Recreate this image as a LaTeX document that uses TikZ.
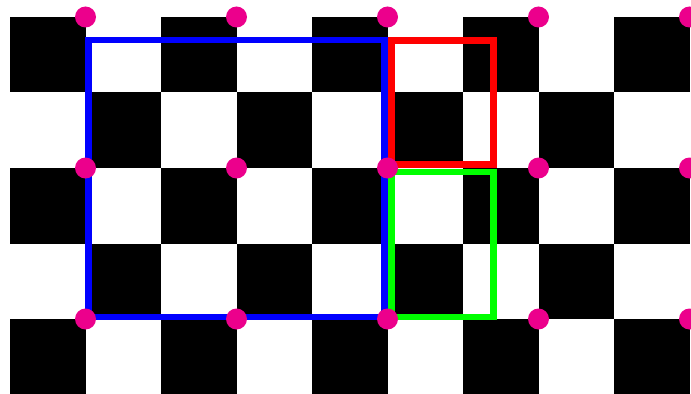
\documentclass[tikz,border=0pt]{standalone}
\usepackage{tikz}
\definecolor{dotmagenta}{RGB}{236,0,140}

\begin{document}
\begin{tikzpicture}[
  x=0.03cm, y=-0.03cm,
  cell/.style={fill=black},
  frame/.style={line width=0.195cm, line join=miter},
  corner/.style={fill=dotmagenta}
]
\useasboundingbox (0,0) rectangle (691,394);
\clip (0,0) rectangle (691,394);
% board
\foreach \i in {0,...,8}
  \foreach \j in {0,...,4} {
    \pgfmathparse{int(mod(\i+\j,2))}
    \ifnum\pgfmathresult=0
      \fill[cell] ({10+75.5*\i},{17+75.5*\j}) rectangle ++(75.5,75.5);
    \fi
  }
% frames
\draw[frame, blue] (88.5,40) rectangle (384.7,317);
\draw[frame, red] (391.3,40.3) rectangle (493.3,164.7);
\draw[frame, green] (391.3,172) rectangle (493.3,317);
% corners
\foreach \i in {1,3,5,7,9}
  \foreach \j in {0,2,4}
    \fill[corner] ({10+75.5*\i},{17+75.5*\j}) circle[radius=10.5];
\end{tikzpicture}
\end{document}
